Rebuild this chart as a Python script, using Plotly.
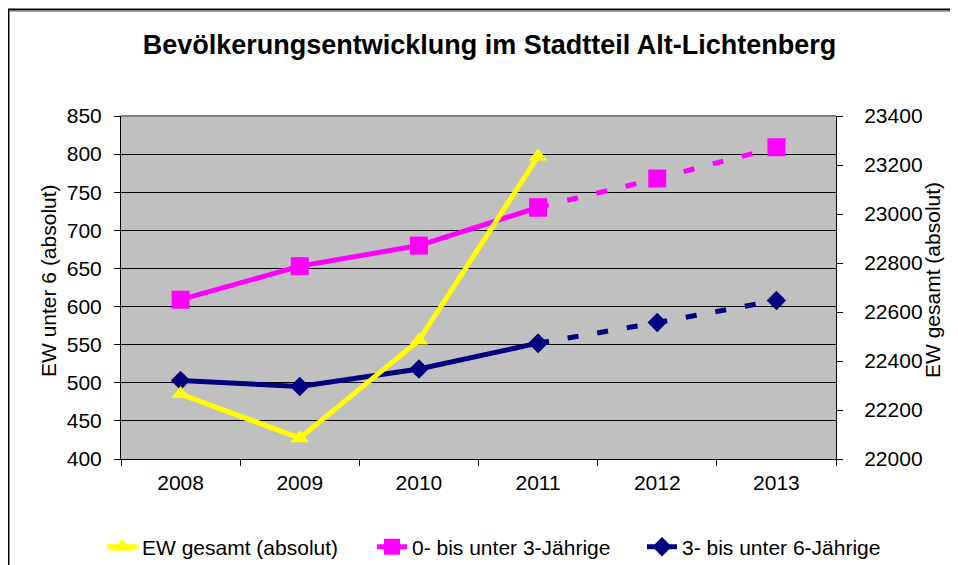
import plotly.graph_objects as go

years = ["2008", "2009", "2010", "2011", "2012", "2013"]
ew_gesamt = [22265, 22085, 22484, 23235]          # 2008-2011, right axis
unter3 = [609, 653, 680, 730, 768, 809]            # 0- bis unter 3-Jährige
unter6 = [503, 495, 518, 552, 579, 608]            # 3- bis unter 6-Jährige
n_actual = 4  # 2008-2011 actual, 2011-2013 projected (dashed)

left_ticks = [400, 450, 500, 550, 600, 650, 700, 750, 800, 850]
right_ticks = [22000, 22200, 22400, 22600, 22800, 23000, 23200, 23400]

FONT = "Liberation Sans, Arial, sans-serif"
YEL, MAG, NAVY = "#FFFF00", "#FF00FF", "#000080"

fig = go.Figure()

# projected (dashed) parts
fig.add_trace(go.Scatter(x=years[n_actual - 1:], y=unter3[n_actual - 1:], mode="lines+markers",
                         line=dict(color=MAG, width=5, dash="11px,19px"),
                         marker=dict(symbol="square", size=18, color=MAG),
                         showlegend=False, hoverinfo="skip"))
fig.add_trace(go.Scatter(x=years[n_actual - 1:], y=unter6[n_actual - 1:], mode="lines+markers",
                         line=dict(color=NAVY, width=5, dash="11px,19px"),
                         marker=dict(symbol="diamond", size=15, color=NAVY),
                         showlegend=False, hoverinfo="skip"))
# actual parts
fig.add_trace(go.Scatter(x=years[:n_actual], y=unter3[:n_actual], mode="lines+markers",
                         name="0- bis unter 3-Jährige", legendrank=2,
                         line=dict(color=MAG, width=5),
                         marker=dict(symbol="square", size=18, color=MAG)))
fig.add_trace(go.Scatter(x=years[:n_actual], y=unter6[:n_actual], mode="lines+markers",
                         name="3- bis unter 6-Jährige", legendrank=3,
                         line=dict(color=NAVY, width=5),
                         marker=dict(symbol="diamond", size=15, color=NAVY)))
fig.add_trace(go.Scatter(x=years[:n_actual], y=ew_gesamt, mode="lines+markers",
                         name="EW gesamt (absolut)", legendrank=1, yaxis="y2",
                         line=dict(color=YEL, width=5),
                         marker=dict(symbol="triangle-up", size=16, color=YEL)))

# page is placed with an 8px body margin -> work in reference pixels minus offset
OFF = 8
W, H = 958 - OFF, 565 - OFF
L, R, T, B = 121 - OFF, 836 - OFF, 116 - OFF, 459 - OFF
pw, ph = R - L, B - T

def px(x):  # reference page x -> paper
    return (x - OFF - L) / pw

def py(y):  # reference page y -> paper
    return (B - (y - OFF)) / ph

def cx(x):  # reference page x -> container
    return (x - OFF) / W

def cy(y):
    return 1 - (y - OFF) / H

fig.update_layout(
    width=W, height=H,
    margin=dict(l=L, r=W - R, t=T, b=H - B, autoexpand=False),
    paper_bgcolor="white", plot_bgcolor="#C0C0C0",
    font=dict(family=FONT, size=21, color="black"),
    title=dict(text="<b>Bevölkerungsentwicklung im Stadtteil Alt-Lichtenberg</b>",
               font=dict(family=FONT, size=27, color="black"),
               x=cx(489.5), xref="container", xanchor="center",
               y=cy(45), yref="container", yanchor="middle"),
    xaxis=dict(type="category", categoryorder="array", categoryarray=years,
               range=[-0.5, 5.5], tickson="boundaries", ticks="outside", ticklen=6,
               tickcolor="black", showline=True, linecolor="black", linewidth=1,
               showgrid=False, ticklabelstandoff=5, tickfont=dict(size=21)),
    yaxis=dict(range=[400, 850], tickvals=left_ticks, ticks="outside", ticklen=6,
               tickcolor="black", showline=True, linecolor="black", linewidth=1,
               showgrid=True, gridcolor="black", gridwidth=1, zeroline=False,
               ticklabelstandoff=8, tickfont=dict(size=21)),
    yaxis2=dict(range=[22000, 23400], tickvals=right_ticks, tickformat="d",
                overlaying="y", side="right",
                ticks="outside", ticklen=6, tickcolor="black", showline=True,
                linecolor="black", linewidth=1, showgrid=False, zeroline=False,
                ticklabelstandoff=17, tickfont=dict(size=21)),
    legend=dict(orientation="h", x=px(102), xref="paper", xanchor="left",
                y=py(547), yref="paper", yanchor="middle",
                font=dict(size=21), bgcolor="rgba(0,0,0,0)",
                entrywidth=225, entrywidthmode="pixels",
                traceorder="normal"),
    showlegend=True,
    shapes=[
        # plot area top border
        dict(type="line", xref="paper", yref="paper", x0=0, x1=1, y0=1, y1=1,
             line=dict(color="#808080", width=2), layer="above"),
        # outer chart border (left & top visible)
        dict(type="line", xref="paper", yref="paper", x0=px(8.5), x1=px(8.5),
             y0=py(9), y1=py(580), line=dict(color="black", width=2)),
        dict(type="line", xref="paper", yref="paper", x0=px(7), x1=px(980),
             y0=py(9.5), y1=py(9.5), line=dict(color="black", width=2)),
        dict(type="line", xref="paper", yref="paper", x0=px(9), x1=px(980),
             y0=py(11.5), y1=py(11.5), line=dict(color="#A0A0A0", width=1)),
    ],
    annotations=[
        dict(text="EW unter 6 (absolut)", xref="paper", yref="paper",
             x=px(48), y=py(281), textangle=-90, showarrow=False,
             xanchor="center", yanchor="middle", font=dict(size=21)),
        dict(text="EW gesamt (absolut)", xref="paper", yref="paper",
             x=px(932), y=py(280), textangle=-90, showarrow=False,
             xanchor="center", yanchor="middle", font=dict(size=21)),
    ],
)

fig.write_html("out.html")
